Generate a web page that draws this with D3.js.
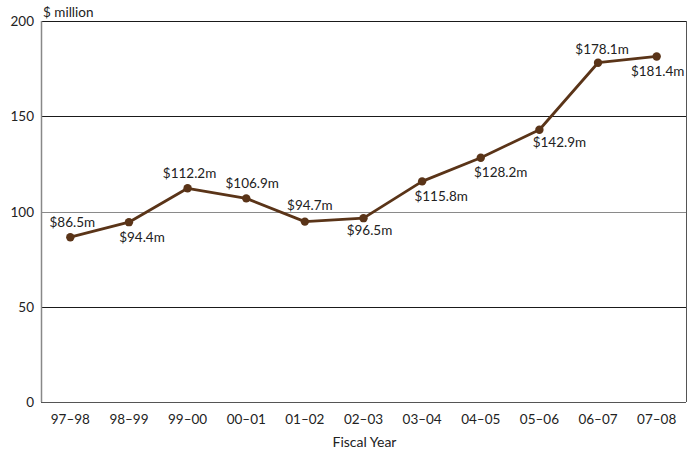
<!DOCTYPE html>
<html><head><meta charset="utf-8">
<script src="https://cdn.jsdelivr.net/npm/d3@7"></script>
<style>body{margin:0;background:#fff}svg{display:block}text{font-family:Lato,"Open Sans",sans-serif;fill:#222}</style>
</head><body><svg id="c" width="696" height="453"></svg>
<script>
const categories = ["97–98","98–99","99–00","00–01","01–02","02–03","03–04","04–05","05–06","06–07","07–08"];
const values = [86.5,94.4,112.2,106.9,94.7,96.5,115.8,128.2,142.9,178.1,181.4];
const valueLabels = ["$86.5m","$94.4m","$112.2m","$106.9m","$94.7m","$96.5m","$115.8m","$128.2m","$142.9m","$178.1m","$181.4m"];
const yTicks = [0,50,100,150,200];

// label nudges (layout only): [dx, dy] from each point
const labelNudge = [[2,-10],[13,20],[2,-10],[6,-10],[5,-12],[6,17],[19,20],[20,19],[20,17],[4,-9],[1,20]];

const svg = d3.select("#c");
const m = {l:41, r:10, t:21, b:51};
const W = 696, H = 453;
const x = d3.scaleBand().domain(categories).range([m.l, W - m.r]).padding(0);
const y = d3.scaleLinear().domain([0,200]).range([H - m.b, m.t]);

// gridlines
svg.append("g").selectAll("line").data(yTicks.filter(d=>d>0)).join("line")
  .attr("x1", m.l).attr("x2", W - m.r)
  .attr("y1", d=>Math.round(y(d))+0.5).attr("y2", d=>Math.round(y(d))+0.5)
  .attr("stroke", d=> d===100 ? "#8a8a8a" : "#1a1a1a").attr("stroke-width", 1);
// right border
svg.append("line").attr("x1", W-m.r+0.5).attr("x2", W-m.r+0.5).attr("y1", y(200)).attr("y2", y(0))
  .attr("stroke","#555");
// left axis
svg.append("line").attr("x1", m.l+0.5).attr("x2", m.l+0.5).attr("y1", y(200)).attr("y2", y(0))
  .attr("stroke","#888").attr("stroke-width",1.5);
// bottom axis
svg.append("line").attr("x1", m.l).attr("x2", W-m.r).attr("y1", Math.round(y(0))+0.5).attr("y2", Math.round(y(0))+0.5)
  .attr("stroke","#555");

// y tick labels
svg.append("g").selectAll("text").data(yTicks).join("text")
  .attr("x", 34).attr("y", d=>y(d)+5).attr("text-anchor","end")
  .attr("font-size", 13.5).text(d=>d);
svg.append("text").attr("x", 43).attr("y", 17).attr("font-size", 13.5).text("$ million");

// x tick labels
svg.append("g").selectAll("text").data(categories).join("text")
  .attr("x", d=>x(d)+x.bandwidth()/2).attr("y", 424).attr("text-anchor","middle")
  .attr("font-size", 13.5).text(d=>d);
svg.append("text").attr("x", 364.5).attr("y", 447).attr("text-anchor","middle").attr("font-size", 14).text("Fiscal Year");

const cx = (d,i)=>x(categories[i])+x.bandwidth()/2;
const line = d3.line().x((d,i)=>cx(d,i)).y(d=>y(d));
svg.append("path").datum(values).attr("d", line).attr("fill","none")
  .attr("stroke","#5a3418").attr("stroke-width",2.8).attr("stroke-linejoin","round");
svg.append("g").selectAll("circle").data(values).join("circle")
  .attr("cx",(d,i)=>cx(d,i)).attr("cy",d=>y(d)).attr("r",4.2).attr("fill","#5a3418");

svg.append("g").selectAll("text").data(values).join("text")
  .attr("x",(d,i)=>cx(d,i) + labelNudge[i][0])
  .attr("y",(d,i)=>y(d) + labelNudge[i][1])
  .attr("text-anchor","middle").attr("font-size",13.5)
  .text((d,i)=>valueLabels[i]);
</script></body></html>
